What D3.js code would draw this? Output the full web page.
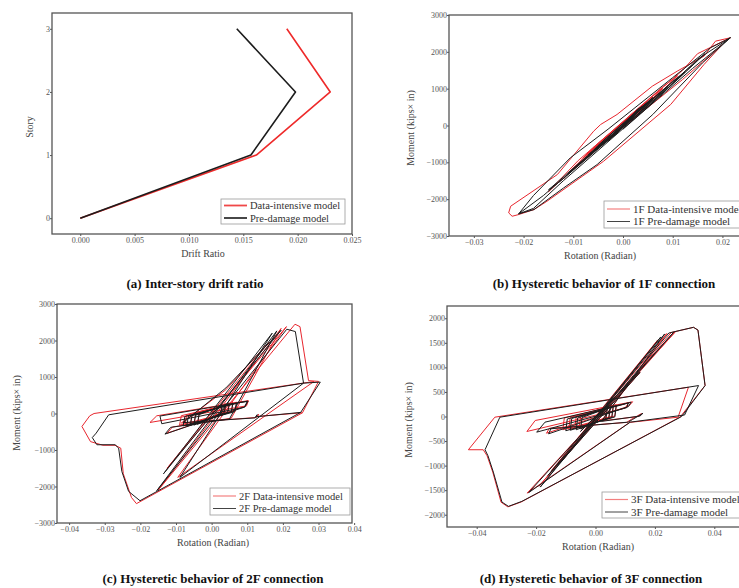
<!DOCTYPE html>
<html>
<head>
<meta charset="utf-8">
<script src="https://cdn.jsdelivr.net/npm/d3@7"></script>
<style>
  body { margin: 0; background: #fff; }
  svg { display: block; font-family: "Liberation Serif", "Times New Roman", serif; }
</style>
</head>
<body>
<script>
// ---- (a) inter-story drift ----
const storyLevels = [0, 1, 2, 3]
const driftDataIntensive = [0, 0.0162, 0.0230, 0.0190]
const driftPreDamage = [0, 0.0157, 0.0198, 0.0144]
const driftTicks = [0, 0.005, 0.010, 0.015, 0.020, 0.025]

// ---- (b) 1F connection [rotation, moment] ----
const hyst1FDataIntensive = [
  [0,0],[0.0025,380],[0.0040,480],[0.0010,170],[-0.0035,-350],[-0.0050,-520],[-0.0015,-220],
  [0.0030,420],[0.0048,600],[0.0005,120],[-0.0045,-470],[-0.0060,-640],[-0.0020,-260],
  [0.0040,520],[0.0058,720],[0.0015,260],[-0.0055,-560],[-0.0068,-760],[-0.0030,-380],
  [0.0050,620],[0.0065,800],[0.0020,340],
  [-0.0060,-650],[-0.0080,-880],[-0.0035,-350],[0.0060,800],[0.0080,1000],[0.0030,350],
  [-0.0100,-1150],[-0.0120,-1450],[-0.0060,-600],[0.0080,1050],[0.0110,1350],[0.0060,700],
  [-0.0130,-1550],[-0.0150,-1800],[-0.0090,-950],[0.0120,1500],[0.0150,1950],
  [0.0216,2382],[0.0186,2290],[0.0163,1883],[0.0109,1475],[0.0059,1068],[-0.0012,299],
  [-0.0045,27],[-0.0059,-154],[-0.0132,-1331],[-0.0226,-2192],[-0.0230,-2372],[-0.0223,-2464],
  [-0.0210,-2418],[-0.0179,-2282],[-0.0153,-2057],[-0.0039,-970],[0.0096,571],[0.0163,1657],
  [0.0200,2200],[0.0120,1250],[0.0000,-50]
]
const hyst1FPreDamage = [
  [0,0],[0.0030,450],[0.0045,560],[0.0015,220],[-0.0030,-380],[-0.0045,-560],[-0.0015,-250],
  [0.0035,480],[0.0052,640],[0.0012,180],[-0.0040,-420],[-0.0055,-640],[-0.0020,-300],
  [0.0045,560],[0.0060,760],[0.0020,300],[-0.0050,-540],[-0.0065,-760],[-0.0025,-350],
  [0.0040,500],[0.0060,700],[0.0025,250],[-0.0050,-560],[-0.0070,-800],[-0.0030,-350],
  [0.0070,850],[0.0090,1050],[0.0040,420],[-0.0090,-1050],[-0.0110,-1300],[-0.0055,-650],
  [0.0100,1200],[0.0125,1450],[0.0070,750],[-0.0125,-1500],[-0.0150,-1750],[-0.0095,-1100],
  [0.0140,1650],[0.0165,1950],[0.0110,1250],[-0.0160,-1900],[-0.0210,-2400],[-0.0180,-2250],
  [-0.0120,-1500],[0.0050,500],[0.0150,1800],[0.0216,2382],[0.0176,2111],[0.0100,1300],
  [-0.0030,-100],[-0.0106,-878],[-0.0180,-1900],[-0.0210,-2400],[-0.0179,-2282],
  [-0.0120,-1700],[-0.0052,-1060],[0.0060,300],[0.0160,1700],[0.0216,2382],[0.0140,1550],[0.0000,-100]
]

// ---- (c) 2F connection ----
const hyst2FDataIntensive = [
  [0,0],[0.003,250],[0.0025,20],[-0.004,-280],[-0.0035,-10],[0.004,270],[0.0035,40],
  [-0.005,-300],[-0.0045,-30],[0.005,290],[0.0045,50],[-0.006,-310],[-0.0055,-40],
  [0.006,300],[0.0055,60],[-0.0075,-320],[-0.007,-50],[0.007,310],[0.0065,70],
  [-0.009,-320],[-0.0085,-60],[0.008,320],
  [0.0103,347],[0.0098,210],[-0.0173,-246],[-0.0154,-63],[0.0103,347],[0.0095,200],
  [-0.0125,-540],[-0.0110,-370],[0.0055,-130],
  [0.0195,2330],[-0.0150,-2100],[0.0234,2446],[0.0248,2380],[0.0272,900],[0.0300,880],
  [0.0255,20],[-0.0211,-2470],[-0.0225,-2300],[-0.0248,-1650],[-0.0255,-950],[-0.0271,-870],
  [-0.0305,-870],[-0.0340,-770],[-0.0364,-355],[-0.0342,-63],[-0.0330,0],[0.0287,875],
  [-0.0095,-1750],[0.0210,2380],[-0.0125,-1500],[0.0160,1950],[0.0040,650],[-0.0085,-260],
  [0.0126,-109],[0.0132,-20],[0.0128,-80],[0.0255,20]
]
const hyst2FPreDamage = [
  [0,0],[0.003,230],[0.0025,0],[-0.004,-300],[-0.0035,-30],[0.004,250],[0.0035,20],
  [-0.005,-320],[-0.0045,-50],[0.005,270],[0.0045,30],[-0.006,-330],[-0.0055,-60],
  [0.006,280],[0.0055,40],[-0.007,-340],[-0.0065,-70],[0.007,290],[0.0065,50],
  [-0.008,-340],[-0.0075,-80],[0.008,300],
  [0.0100,330],[0.0092,170],[-0.0140,-280],[-0.0145,-70],[0.0102,340],[0.0093,180],
  [-0.0131,-565],[-0.0115,-380],[0.0050,-150],
  [0.0183,2263],[-0.0154,-2115],[0.0211,2309],[0.0235,2245],[0.0258,832],[0.0305,860],
  [0.0250,30],[-0.0201,-2390],[-0.0233,-2134],[-0.0252,-1587],[-0.0261,-947],[-0.0271,-856],
  [-0.0322,-856],[-0.0335,-660],[-0.0324,-537],[-0.0289,-36],[0.0258,832],[-0.0089,-1750],
  [0.0170,2200],[-0.0135,-1650],[0.0195,2280],[0.0040,700],[-0.0080,-250],[0.0122,-120],
  [0.0128,-30],[0.0124,-90],[0.0250,30]
]

// ---- (d) 3F connection ----
const hyst3FDataIntensive = [
  [0,0],[0.004,190],[0.0035,-20],[-0.0055,-230],[-0.005,0],[0.005,210],[0.0045,-10],
  [-0.0070,-250],[-0.0065,-10],[0.006,230],[0.0055,0],[-0.0090,-260],[-0.0085,-20],
  [0.007,240],[0.0065,10],[-0.011,-270],[-0.0105,-30],[0.0095,250],
  [0.0111,278],[0.0100,170],[-0.0231,-305],[-0.0203,-81],[0.0125,300],[0.0112,210],
  [-0.0165,-340],[-0.0155,-240],[0.0105,-120],[0.0120,-60],[0.0155,60],[0.0145,0],[0.0020,-90],
  [0.0240,1690],[-0.0190,-1420],[0.0255,1710],[0.0330,1816],[0.0345,1760],[0.0369,630],
  [0.0285,-10],[-0.0250,-1740],[-0.0295,-1840],[-0.0318,-1745],[-0.0346,-1130],[-0.0365,-800],
  [-0.0378,-677],[-0.0428,-677],[-0.0339,-14],[0.0313,596],[0.0278,-14],[0.0115,-120],
  [-0.0230,-1560],[0.0268,1720],[-0.0148,-1098],[0.0210,1560],[-0.0110,-880],[0.0150,900],
  [-0.0050,-300],[0,0]
]
const hyst3FPreDamage = [
  [0,0],[0.004,170],[0.0035,-40],[-0.005,-250],[-0.0045,-20],[0.005,190],[0.0045,-30],
  [-0.0065,-270],[-0.006,-30],[0.006,210],[0.0055,-20],[-0.0085,-280],[-0.008,-40],
  [0.007,220],[0.0065,-10],[-0.010,-290],[-0.0095,-50],[0.009,240],
  [0.0111,278],[0.0105,180],[-0.0198,-319],[-0.0170,-115],[0.0120,290],[0.0110,200],
  [-0.0158,-353],[-0.0150,-250],[0.0110,-115],[0.0125,-60],[0.0160,67],[0.0150,10],[0.0020,-100],
  [0.0233,1681],[-0.0186,-1437],[0.0247,1700],[0.0330,1816],[0.0345,1760],[0.0369,630],
  [0.0290,0],[-0.0248,-1728],[-0.0293,-1830],[-0.0315,-1742],[-0.0344,-1132],[-0.0362,-800],
  [-0.0372,-677],[-0.0322,-14],[0.0347,630],[0.0300,30],[0.0117,-115],[-0.0225,-1550],
  [0.0263,1714],[-0.0160,-1200],[0.0220,1620],[-0.0120,-950],[0.0150,900],[-0.0050,-300],[0,0]
]

const RED = '#e8262e', BLACK = '#1c1c1c'
const svg = d3.select('body').append('svg').attr('width', 739).attr('height', 588)

function panel(c) {
  let x = d3.scaleLinear().domain(c.xDomain).range([c.left, c.right])
  let y = d3.scaleLinear().domain(c.yDomain).range([c.bottom, c.top])
  let g = svg.append('g')

  // axes
  let ax = g.append('g').attr('transform', `translate(0,${c.bottom})`)
    .call(d3.axisBottom(x).tickValues(c.xTicks).tickFormat(c.xFmt).tickSize(2).tickPadding(1))
  let ay = g.append('g').attr('transform', `translate(${c.left},0)`)
    .call(d3.axisLeft(y).tickValues(c.yTicks).tickFormat(c.yFmt).tickSize(2).tickPadding(0))
  for (let a of [ax, ay]) {
    a.attr('font-family', null).attr('font-size', 8)
    a.select('.domain').remove()
    a.selectAll('line').attr('stroke', '#555')
    a.selectAll('text').attr('fill', '#555')
  }

  // series
  for (let s of c.series) {
    g.append('path').datum(s.data)
      .attr('fill', 'none').attr('stroke', s.color).attr('stroke-width', s.width)
      .attr('stroke-linejoin', 'round')
      .attr('d', d3.line().x(d => x(d[0])).y(d => y(d[1])))
  }

  g.append('rect').attr('x', c.left).attr('y', c.top)
    .attr('width', c.right - c.left).attr('height', c.bottom - c.top)
    .attr('fill', 'none').attr('stroke', '#555').attr('stroke-width', 1.3)

  // legend
  let L = c.legend
  g.append('rect').attr('x', L.x).attr('y', L.y).attr('width', L.w).attr('height', L.h)
    .attr('fill', '#fff').attr('stroke', '#999').attr('stroke-width', 0.8)
  L.items.forEach((it, i) => {
    let yy = L.y + L.row0 + i * L.gap
    g.append('line').attr('x1', L.x + 3).attr('x2', L.x + 26).attr('y1', yy).attr('y2', yy)
      .attr('stroke', it.color).attr('stroke-width', it.width)
    g.append('text').attr('x', L.x + 29).attr('y', yy + 3.5)
      .attr('font-size', L.size).attr('fill', '#333').text(it.label)
  })

  // titles
  g.append('text').attr('x', c.xTitle[0]).attr('y', c.xTitle[1]).attr('text-anchor', 'middle')
    .attr('font-size', 10).attr('fill', '#444').text(c.xLabel)
  g.append('text').attr('transform', `translate(${c.yTitle[0]},${c.yTitle[1]}) rotate(-90)`)
    .attr('text-anchor', 'middle').attr('font-size', 10).attr('fill', '#444').text(c.yLabel)
  g.append('text').attr('x', c.caption[0]).attr('y', c.caption[1]).attr('text-anchor', 'middle')
    .attr('font-size', 13).attr('font-weight', 'bold').attr('fill', '#111').text(c.captionText)
}

const momentFmt = d3.format('d')
const rotFmt = d3.format('.2f')

panel({
  left: 52, right: 352, top: 13, bottom: 234,
  xDomain: [-0.0026, 0.025], yDomain: [-0.25, 3.25],
  xTicks: driftTicks, yTicks: storyLevels, xFmt: d3.format('.3f'), yFmt: d3.format('d'),
  series: [
    { data: storyLevels.map((s, i) => [driftDataIntensive[i], s]), color: '#ee2a2a', width: 1.6 },
    { data: storyLevels.map((s, i) => [driftPreDamage[i], s]), color: BLACK, width: 1.6 }
  ],
  legend: { x: 221, y: 199, w: 124, h: 25, row0: 6.5, gap: 12.5, size: 10.5, items: [
    { label: 'Data-intensive model', color: '#f04848', width: 1.8 },
    { label: 'Pre-damage model', color: '#333', width: 1.8 } ] },
  xLabel: 'Drift Ratio', yLabel: 'Story', xTitle: [203, 257], yTitle: [33, 127],
  caption: [195, 288], captionText: '(a) Inter-story drift ratio'
})

panel({
  left: 449, right: 797, top: 15, bottom: 236,
  xDomain: [-0.035, 0.035], yDomain: [-3000, 3000],
  xTicks: [-0.03, -0.02, -0.01, 0, 0.01, 0.02], yTicks: d3.range(-3000, 3001, 1000),
  xFmt: rotFmt, yFmt: momentFmt,
  series: [
    { data: hyst1FDataIntensive, color: RED, width: 1 },
    { data: hyst1FPreDamage, color: BLACK, width: 1 }
  ],
  legend: { x: 604, y: 201, w: 150, h: 27, row0: 8, gap: 12.5, size: 11, items: [
    { label: '1F Data-intensive model', color: '#f38080', width: 1.2 },
    { label: '1F Pre-damage model', color: '#444', width: 1 } ] },
  xLabel: 'Rotation (Radian)', yLabel: 'Moment (kips× in)', xTitle: [600, 259], yTitle: [414, 128],
  caption: [604, 288], captionText: '(b) Hysteretic behavior of 1F connection'
})

panel({
  left: 57, right: 352, top: 304, bottom: 523,
  xDomain: [-0.0434, 0.0394], yDomain: [-3000, 3000],
  xTicks: [-0.04, -0.03, -0.02, -0.01, 0, 0.01, 0.02, 0.03, 0.04], yTicks: d3.range(-3000, 3001, 1000),
  xFmt: rotFmt, yFmt: momentFmt,
  series: [
    { data: hyst2FDataIntensive, color: RED, width: 1 },
    { data: hyst2FPreDamage, color: BLACK, width: 1 }
  ],
  legend: { x: 210, y: 488, w: 140, h: 27, row0: 8, gap: 12.5, size: 10.5, items: [
    { label: '2F Data-intensive model', color: '#f38080', width: 1.2 },
    { label: '2F Pre-damage model', color: '#444', width: 1 } ] },
  xLabel: 'Rotation (Radian)', yLabel: 'Moment (kips× in)', xTitle: [213, 546], yTitle: [20, 413],
  caption: [213, 583], captionText: '(c) Hysteretic behavior of 2F connection'
})

panel({
  left: 447, right: 744, top: 306, bottom: 527,
  xDomain: [-0.05, 0.05], yDomain: [-2250, 2250],
  xTicks: [-0.04, -0.02, 0, 0.02, 0.04], yTicks: d3.range(-2000, 2001, 500),
  xFmt: rotFmt, yFmt: momentFmt,
  series: [
    { data: hyst3FDataIntensive, color: RED, width: 1 },
    { data: hyst3FPreDamage, color: BLACK, width: 1 }
  ],
  legend: { x: 602, y: 492, w: 150, h: 26, row0: 7.5, gap: 12.5, size: 11, items: [
    { label: '3F Data-intensive model', color: '#f38080', width: 1.2 },
    { label: '3F Pre-damage model', color: '#444', width: 1 } ] },
  xLabel: 'Rotation (Radian)', yLabel: 'Moment (kips× in)', xTitle: [598, 550], yTitle: [412, 420],
  caption: [591, 583], captionText: '(d) Hysteretic behavior of 3F connection'
})
</script>
</body>
</html>
